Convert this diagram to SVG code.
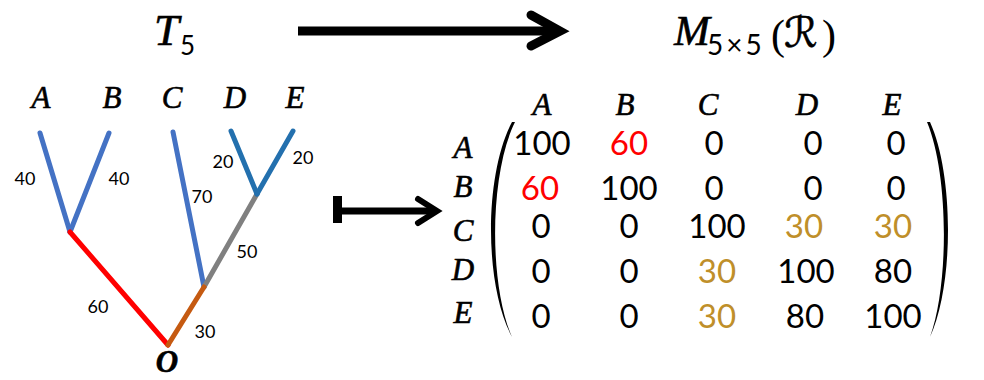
<svg xmlns="http://www.w3.org/2000/svg" width="984" height="380" viewBox="0 0 984 380">
<style>
.it{font-family:"Liberation Serif","DejaVu Serif",serif;font-style:italic;fill:#000;stroke:#000;stroke-width:0.6}
.num{font-family:Lato,"Liberation Sans",sans-serif;fill:#000}
.el{font-size:18px;text-anchor:middle}
.mx{font-size:33px;text-anchor:middle}
.red{fill:#FF0000}
.gold{fill:#BF8F2A}
.edge{stroke-width:5;stroke-linecap:round;fill:none}
.blue{stroke:#4472C4}
.dblue{stroke:#2370AE}
</style>
<rect width="984" height="380" fill="#fff"/>

<g id="title-left">
<text class="it" x="154" y="45" font-size="45">T</text>
<text class="num" x="180" y="55" font-size="26">5</text>
</g>

<g id="title-right">
<text class="it" x="674" y="45" font-size="43">M</text>
<text class="num" x="707" y="55" font-size="28" letter-spacing="3">5×5</text>
<text x="771" y="49" font-size="42" font-family="Liberation Serif,serif">(</text>
<text x="784" y="47" font-size="42" font-family="DejaVu Serif,DejaVu Sans,serif" stroke="#000" stroke-width="0.6">ℛ</text>
<text x="822" y="49" font-size="42" font-family="Liberation Serif,serif">)</text>
</g>

<g id="connectors">
<g id="top-arrow" stroke="#000" fill="none" stroke-width="9">
<path d="M298,31 H555"/>
<path d="M531,15 L560,31 L531,46" stroke-linecap="round" stroke-linejoin="miter"/>
</g>
<g id="mapsto-arrow" stroke="#000" fill="none">
<rect x="333" y="196" width="9" height="27" fill="#000" stroke="none"/>
<path d="M338,211 H433" stroke-width="7"/>
<path d="M418,199 L437,211 L418,223" stroke-width="6" stroke-linecap="round"/>
</g>
<g id="tree-edges">
<line class="edge blue" x1="40" y1="133" x2="70" y2="232"/>
<line class="edge blue" x1="109" y1="133" x2="70" y2="232"/>
<line class="edge" stroke="#FF0000" x1="70" y1="232" x2="168" y2="345"/>
<line class="edge blue" x1="173" y1="132" x2="204" y2="287"/>
<line class="edge" stroke="#808080" x1="204" y1="287" x2="257" y2="194"/>
<line class="edge" stroke="#C55A11" x1="204" y1="287" x2="168" y2="345"/>
<line class="edge dblue" x1="231" y1="131" x2="257" y2="194"/>
<line class="edge dblue" x1="293" y1="131" x2="257" y2="194"/>
</g>
</g>

<g id="tree-leaves" class="it" font-size="31" text-anchor="middle">
<text id="leaf-A" x="41" y="108">A</text>
<text id="leaf-B" x="112" y="108">B</text>
<text id="leaf-C" x="172" y="108">C</text>
<text id="leaf-D" x="235" y="108">D</text>
<text id="leaf-E" x="295" y="108">E</text>
</g>
<g id="root-O">
<text class="it" x="167" y="372" font-size="31" font-weight="bold" text-anchor="middle">O</text>
</g>

<g id="edge-labels" class="num el">
<text x="25" y="185">40</text>
<text x="119" y="185">40</text>
<text x="202" y="203">70</text>
<text x="223" y="168">20</text>
<text x="303" y="164">20</text>
<text x="247" y="258">50</text>
<text x="98" y="313">60</text>
<text x="205" y="338">30</text>
</g>

<g id="matrix">
<g id="col-headers" class="it" font-size="31" text-anchor="middle">
<text x="542" y="115">A</text>
<text x="625" y="115">B</text>
<text x="708" y="115">C</text>
<text x="807" y="115">D</text>
<text x="892" y="115">E</text>
</g>
<g id="row-headers" class="it" font-size="31" text-anchor="middle">
<text x="463" y="158">A</text>
<text x="463" y="197">B</text>
<text x="463" y="241">C</text>
<text x="463" y="280">D</text>
<text x="463" y="323">E</text>
</g>
<g id="brackets" fill="#000">
<path d="M512,122 C484,175 484,285 512,337 C489,285 489,175 515,122 Z"/>
<path d="M930,122 C954,175 954,285 930,337 C949,285 949,175 927,122 Z"/>
</g>
<g id="entries" class="num mx">
<text x="542" y="155">100</text>
<text x="629" y="155" class="red">60</text>
<text x="714" y="155">0</text>
<text x="813" y="155">0</text>
<text x="896" y="155">0</text>

<text x="540" y="200" class="red">60</text>
<text x="629" y="200">100</text>
<text x="714" y="200">0</text>
<text x="813" y="200">0</text>
<text x="896" y="200">0</text>

<text x="541" y="238">0</text>
<text x="629" y="238">0</text>
<text x="717" y="238">100</text>
<text x="804" y="238" class="gold">30</text>
<text x="893" y="238" class="gold">30</text>

<text x="541" y="283">0</text>
<text x="629" y="283">0</text>
<text x="717" y="283" class="gold">30</text>
<text x="806" y="283">100</text>
<text x="893" y="283">80</text>

<text x="541" y="328">0</text>
<text x="629" y="328">0</text>
<text x="717" y="328" class="gold">30</text>
<text x="805" y="328">80</text>
<text x="893" y="328">100</text>
</g>
</g>
</svg>
